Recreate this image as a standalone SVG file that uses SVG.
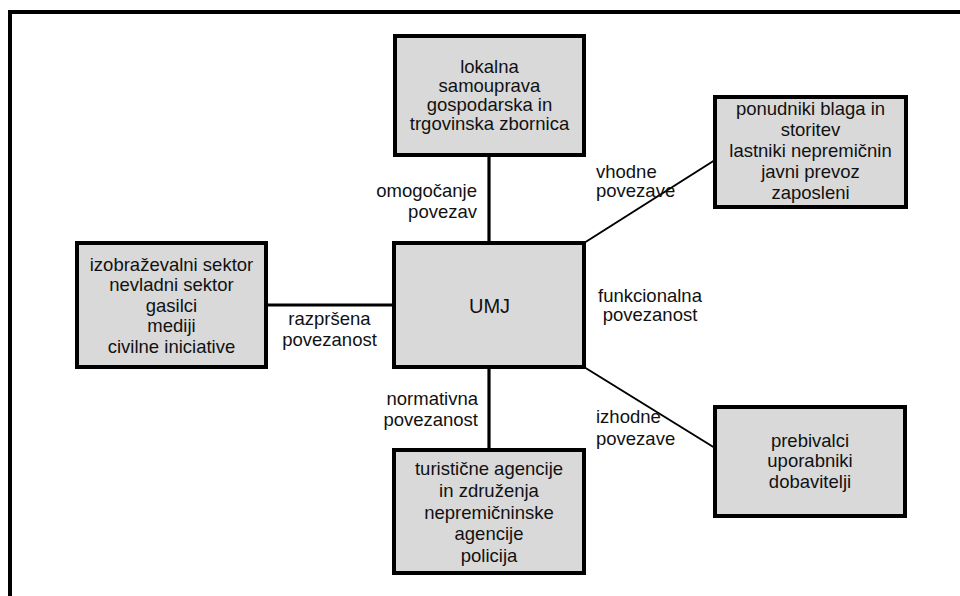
<svg xmlns="http://www.w3.org/2000/svg" width="960" height="596" viewBox="0 0 960 596">
<style>
.box{fill:#d9d9d9;stroke:#000;stroke-width:4}
.t{font-family:"Liberation Sans",Arial,sans-serif;font-size:18.5px;fill:#111}
.c{text-anchor:middle}
.e{text-anchor:end}
.s{text-anchor:start}
.ln{stroke:#000;stroke-width:3.2;fill:none}
.dg{stroke:#000;stroke-width:2;fill:none}
</style>
<rect width="960" height="596" fill="#fff"/>
<path d="M10,596 V12 H962" fill="none" stroke="#000" stroke-width="4"/>
<g id="connectors">
<line class="ln" x1="489" y1="155" x2="489" y2="243"/>
<line class="ln" x1="489" y1="367" x2="489" y2="450"/>
<line class="ln" x1="266" y1="305" x2="394" y2="305"/>
<line class="dg" x1="584" y1="243" x2="715" y2="160"/>
<line class="dg" x1="584" y1="367" x2="715" y2="448"/>
<g class="t">
<text class="e" x="477" y="197">omogočanje</text>
<text class="e" x="477" y="218">povezav</text>
<text class="s" x="596" y="178">vhodne</text>
<text class="s" x="596" y="197">povezave</text>
<text class="c" x="650" y="302">funkcionalna</text>
<text class="c" x="650" y="321">povezanost</text>
<text class="c" x="329.5" y="325">razpršena</text>
<text class="c" x="329.5" y="346">povezanost</text>
<text class="e" x="478" y="405">normativna</text>
<text class="e" x="478" y="426">povezanost</text>
<text class="s" x="596" y="423">izhodne</text>
<text class="s" x="596" y="445">povezave</text>
</g>
</g>
<g id="umj">
<rect class="box" x="394" y="243" width="190" height="124"/>
<text class="t c" x="489.5" y="312.5" style="font-size:20px">UMJ</text>
</g>
<g id="lokalna">
<rect class="box" x="395" y="36" width="189" height="119"/>
<g class="t c">
<text x="489.5" y="73">lokalna</text>
<text x="489.5" y="92">samouprava</text>
<text x="489.5" y="111">gospodarska in</text>
<text x="489.5" y="130">trgovinska zbornica</text>
</g>
</g>
<g id="ponudniki">
<rect class="box" x="715" y="97" width="191" height="110"/>
<g class="t c">
<text x="810.5" y="115">ponudniki blaga in</text>
<text x="810.5" y="136">storitev</text>
<text x="810.5" y="157">lastniki nepremičnin</text>
<text x="810.5" y="178">javni prevoz</text>
<text x="810.5" y="199">zaposleni</text>
</g>
</g>
<g id="izobrazevalni">
<rect class="box" x="77" y="243" width="189" height="124"/>
<g class="t c">
<text x="171.5" y="270.5">izobraževalni sektor</text>
<text x="171.5" y="291">nevladni sektor</text>
<text x="171.5" y="311.5">gasilci</text>
<text x="171.5" y="332">mediji</text>
<text x="171.5" y="352.5">civilne iniciative</text>
</g>
</g>
<g id="turisticne">
<rect class="box" x="394" y="450" width="190" height="123"/>
<g class="t c">
<text x="489" y="475">turistične agencije</text>
<text x="489" y="497">in združenja</text>
<text x="489" y="519">nepremičninske</text>
<text x="489" y="540">agencije</text>
<text x="489" y="562">policija</text>
</g>
</g>
<g id="prebivalci">
<rect class="box" x="715" y="407" width="190" height="109"/>
<g class="t c">
<text x="810" y="447">prebivalci</text>
<text x="810" y="467">uporabniki</text>
<text x="810" y="488">dobavitelji</text>
</g>
</g>
</svg>
